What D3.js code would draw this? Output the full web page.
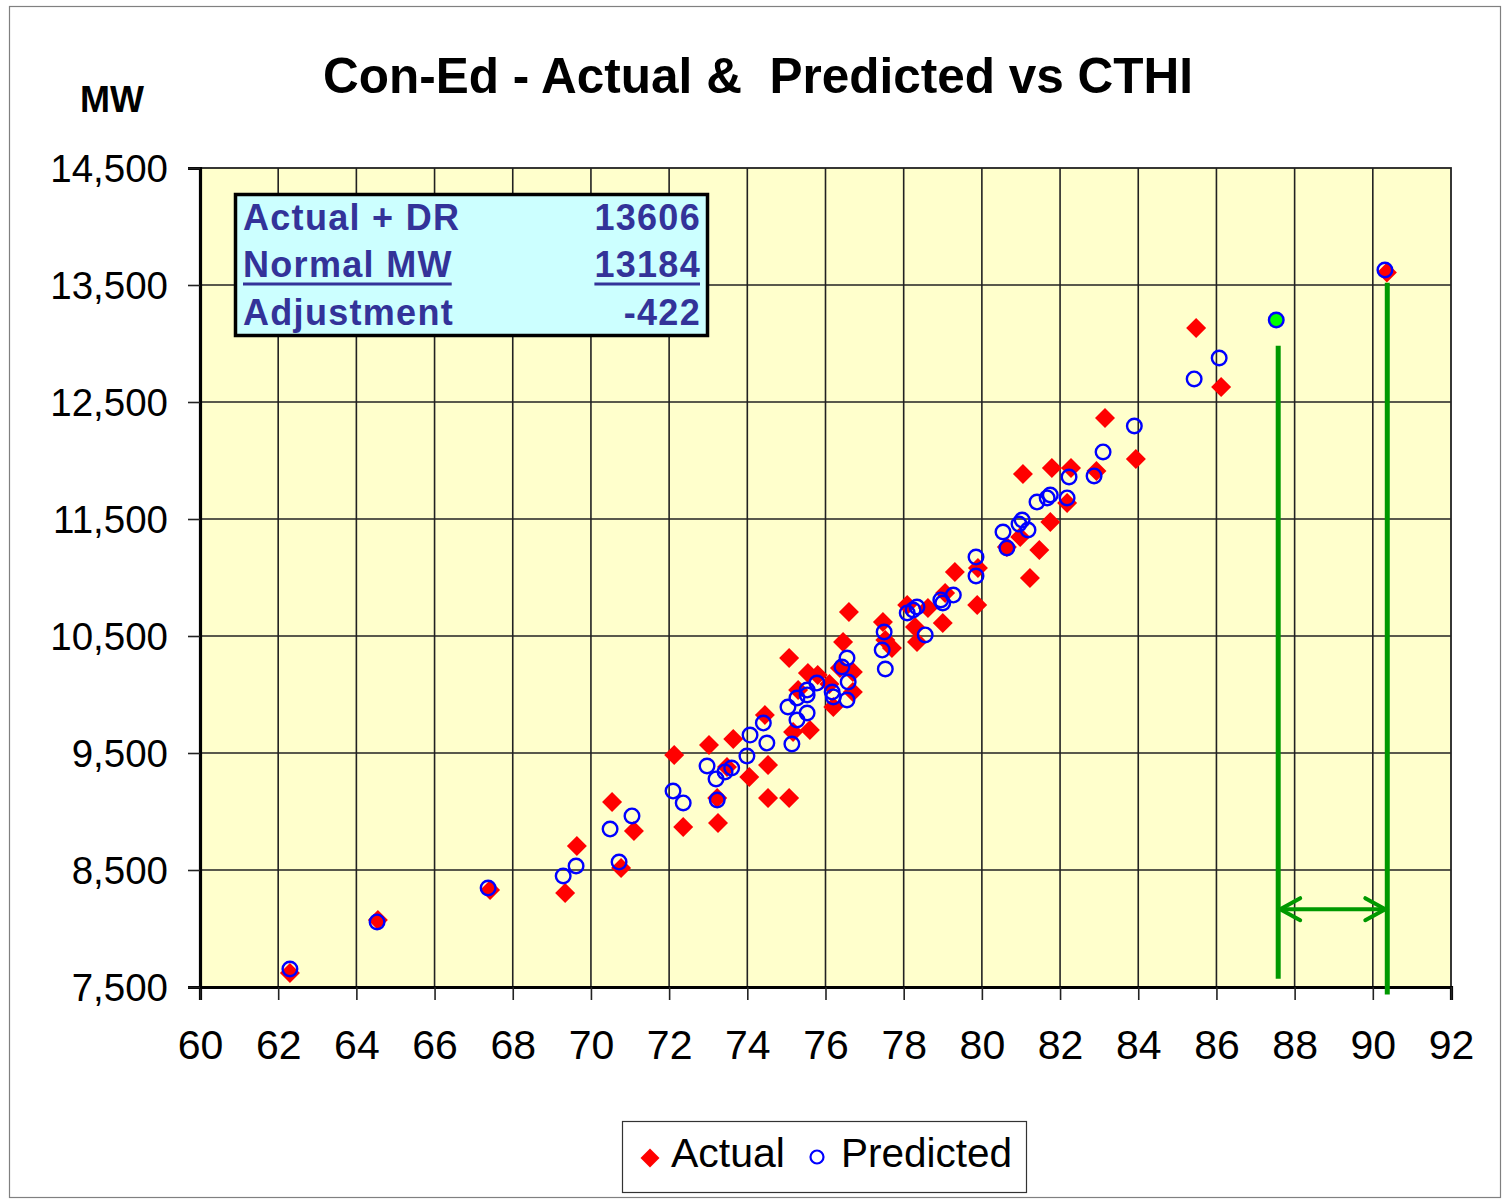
<!DOCTYPE html>
<html>
<head>
<meta charset="utf-8">
<script src="https://cdn.jsdelivr.net/npm/d3@7"></script>
<style>
  html, body { margin: 0; padding: 0; background: #ffffff; }
  svg { display: block; font-family: "Liberation Sans", Arial, sans-serif; }
</style>
</head>
<body>
<svg id="chart" width="1503" height="1199"></svg>
<script>
// ---- Data ----
const title = "Con-Ed - Actual &  Predicted vs CTHI";
const yAxisTitle = "MW";
const xTickValues = [60,62,64,66,68,70,72,74,76,78,80,82,84,86,88,90,92];
const yTickValues = [7500,8500,9500,10500,11500,12500,13500,14500];

const actualCTHI = [62.3,64.55,67.42,69.34,69.64,70.54,70.77,71.1,72.13,72.36,73.02,73.25,73.23,73.48,73.64,74.05,74.45,74.53,74.53,75.07,75.07,75.17,75.3,75.55,75.8,76.7,76.2,76.7,75.6,76.6,76.45,76.37,76.1,77.47,77.53,77.7,78.09,78.29,78.34,78.62,79.0,79.06,79.31,79.9,79.88,80.64,80.98,81.23,81.47,81.75,82.18,81.05,81.79,82.28,82.93,83.94,83.15,85.48,86.12,90.36];
const actualMW   = [7620,8073,8329,8303,8705,9081,8517,8833,9483,8868,9568,8902,9115,9380,9620,9295,9825,9397,9115,9115,10312,9679,10038,10184,10167,10192,9893,10021,9697,10705,10449,10226,10090,10620,10466,10397,10765,10577,10449,10739,10611,10867,11047,11081,10765,11261,11346,10996,11235,11474,11637,11885,11936,11936,11910,12013,12363,13132,12628,13606];

const predCTHI = [62.3,64.53,67.37,69.29,69.62,70.72,70.49,71.05,72.1,72.36,72.97,73.2,73.23,73.43,73.6,73.99,74.07,74.41,74.5,75.04,75.14,75.27,75.53,75.27,75.53,75.53,75.78,76.17,76.2,76.55,76.58,76.42,76.55,77.45,77.53,77.5,78.55,78.09,78.24,78.34,78.95,79.0,79.27,79.85,79.85,80.54,80.64,80.95,81.03,81.18,81.41,81.67,81.75,82.18,82.23,82.87,83.1,83.9,85.43,86.07,90.31];
const predMW   = [7654,8056,8346,8449,8534,8568,8850,8962,9175,9073,9389,9278,9098,9338,9372,9474,9653,9756,9585,9893,9577,9782,9842,9970,9996,10038,10098,10021,9979,9953,10107,10235,10312,10380,10218,10534,10509,10697,10722,10748,10808,10782,10850,11013,11175,11389,11252,11457,11491,11406,11645,11680,11705,11680,11859,11868,12073,12295,12697,12876,13628];

const normalCTHI = [87.53];
const normalMW   = [13201];

const infoLabels = ["Actual + DR", "Normal MW", "Adjustment"];
const infoValues = ["13606", "13184", "-422"];

// green annotation: two verticals and a double arrow (data coordinates)
const guideCTHI  = [87.58, 90.37];
const guideTopMW = [12980, 13520];
const guideBotMW = [7570, 7435];
const arrowMW    = [8165];

const legendLabels = ["Actual", "Predicted"];

// ---- Layout ----
const svg = d3.select("#chart");
const pLeft = 200, pRight = 1451, pTop = 168, pBottom = 987;
const x = d3.scaleLinear().domain([60, 92]).range([pLeft, pRight]);
const y = d3.scaleLinear().domain([7500, 14500]).range([pBottom, pTop]);

// outer frame
svg.append("rect").attr("x", 9.5).attr("y", 6.5).attr("width", 1491).attr("height", 1191)
  .attr("fill", "#fff").attr("stroke", "#808080").attr("stroke-width", 1.2);

// plot background
svg.append("rect").attr("x", pLeft).attr("y", pTop).attr("width", pRight - pLeft).attr("height", pBottom - pTop)
  .attr("fill", "#FFFFCC");

// grid
svg.append("g").selectAll("line").data(xTickValues.slice(1, -1)).join("line")
  .attr("x1", d => x(d)).attr("x2", d => x(d)).attr("y1", pTop).attr("y2", pBottom)
  .attr("stroke", "#222").attr("stroke-width", 1.6);
svg.append("g").selectAll("line").data(yTickValues.slice(1, -1)).join("line")
  .attr("x1", pLeft).attr("x2", pRight).attr("y1", d => y(d)).attr("y2", d => y(d))
  .attr("stroke", "#222").attr("stroke-width", 1.6);

// plot border
svg.append("rect").attr("x", pLeft).attr("y", pTop).attr("width", pRight - pLeft).attr("height", pBottom - pTop)
  .attr("fill", "none").attr("stroke", "#222").attr("stroke-width", 1.8);

// axes
const xAxis = svg.append("g").attr("transform", `translate(0,${pBottom})`)
  .call(d3.axisBottom(x).tickValues(xTickValues).tickFormat(d3.format("d")).tickSize(13).tickPadding(30));
const yAxis = svg.append("g").attr("transform", `translate(${pLeft},0)`)
  .call(d3.axisLeft(y).tickValues(yTickValues).tickFormat(d3.format(",")).tickSize(12).tickPadding(20));
[xAxis, yAxis].forEach(g => {
  g.select(".domain").attr("stroke", "#000").attr("stroke-width", 3.2);
  g.selectAll(".tick line").attr("stroke", "#222").attr("stroke-width", 1.6);
  g.selectAll(".tick text").attr("fill", "#000")
    .attr("font-family", "'Liberation Sans', Arial, sans-serif");
});
xAxis.selectAll(".tick text").attr("font-size", 41);
yAxis.selectAll(".tick text").attr("font-size", 38.5).attr("dy", "0.34em");

// titles
svg.append("text").attr("x", 758).attr("y", 93).attr("text-anchor", "middle")
  .attr("font-size", 49.5).attr("font-weight", "bold").style("white-space", "pre")
  .text(title);
svg.append("text").attr("x", 112).attr("y", 112).attr("text-anchor", "middle")
  .attr("font-size", 36).attr("font-weight", "bold").text(yAxisTitle);

// green guides
const guides = svg.append("g");
guides.selectAll("line").data(guideCTHI).join("line")
  .attr("x1", d => x(d)).attr("x2", d => x(d))
  .attr("y1", (d, i) => y(guideTopMW[i])).attr("y2", (d, i) => y(guideBotMW[i]))
  .attr("stroke", "#009900").attr("stroke-width", 5);
const ay = y(arrowMW[0]);
const ax1 = x(guideCTHI[0]) + 2, ax2 = x(guideCTHI[1]) - 2;
guides.append("line").attr("x1", ax1).attr("x2", ax2).attr("y1", ay).attr("y2", ay)
  .attr("stroke", "#009900").attr("stroke-width", 4);
guides.append("path")
  .attr("d", `M${ax1 + 20},${ay - 11} L${ax1},${ay} L${ax1 + 20},${ay + 11} M${ax2 - 20},${ay - 11} L${ax2},${ay} L${ax2 - 20},${ay + 11}`)
  .attr("fill", "none").attr("stroke", "#009900").attr("stroke-width", 4).attr("stroke-linecap", "round");

// actual markers (red diamonds)
const actual = actualCTHI.map((c, i) => ({ c, v: actualMW[i] }));
svg.append("g").selectAll("path").data(actual).join("path")
  .attr("transform", d => `translate(${x(d.c)},${y(d.v)}) rotate(45)`)
  .attr("d", d3.symbol().type(d3.symbolSquare).size(200)())
  .attr("fill", "#FF0000");

// predicted markers (blue circles)
const pred = predCTHI.map((c, i) => ({ c, v: predMW[i] }));
svg.append("g").selectAll("circle").data(pred).join("circle")
  .attr("cx", d => x(d.c)).attr("cy", d => y(d.v)).attr("r", 7.3)
  .attr("fill", "none").attr("stroke", "#0000FF").attr("stroke-width", 2.4);

// normal MW point (green)
svg.append("g").selectAll("circle").data(normalCTHI).join("circle")
  .attr("cx", d => x(d)).attr("cy", (d, i) => y(normalMW[i])).attr("r", 7.3)
  .attr("fill", "#00FF00").attr("stroke", "#0000FF").attr("stroke-width", 2.4);

// info box
const box = svg.append("g");
box.append("rect").attr("x", 235.5).attr("y", 194.5).attr("width", 472).attr("height", 141)
  .attr("fill", "#CCFFFF").attr("stroke", "#000").attr("stroke-width", 3.5);
const rowY = [230, 277, 325];
box.selectAll("text.lab").data(infoLabels).join("text").attr("class", "lab")
  .attr("x", 243).attr("y", (d, i) => rowY[i]).attr("font-size", 36).attr("font-weight", "bold")
  .attr("letter-spacing", 1.3).attr("fill", "#333399").text(d => d);
box.selectAll("text.val").data(infoValues).join("text").attr("class", "val")
  .attr("x", 701).attr("y", (d, i) => rowY[i]).attr("text-anchor", "end").attr("font-size", 36)
  .attr("letter-spacing", 1.3).attr("font-weight", "bold").attr("fill", "#333399").text(d => d);
// underline for second row
box.selectAll("text").filter(d => d === infoLabels[1] || d === infoValues[1]).each(function () {
  const b = this.getBBox();
  box.append("line").attr("x1", b.x).attr("x2", b.x + b.width - 1).attr("y1", 284).attr("y2", 284)
    .attr("stroke", "#333399").attr("stroke-width", 3);
});

// legend
const leg = svg.append("g");
leg.append("rect").attr("x", 622.5).attr("y", 1121.5).attr("width", 404).attr("height", 71)
  .attr("fill", "#fff").attr("stroke", "#333").attr("stroke-width", 1.2);
leg.append("path").attr("transform", "translate(650,1158) rotate(45)")
  .attr("d", d3.symbol().type(d3.symbolSquare).size(180)()).attr("fill", "#FF0000");
leg.append("text").attr("x", 671).attr("y", 1167).attr("font-size", 41).text(legendLabels[0]);
leg.append("circle").attr("cx", 817).attr("cy", 1157).attr("r", 6.5)
  .attr("fill", "none").attr("stroke", "#0000FF").attr("stroke-width", 2.2);
leg.append("text").attr("x", 841).attr("y", 1167).attr("font-size", 40.5).text(legendLabels[1]);
</script>
</body>
</html>
